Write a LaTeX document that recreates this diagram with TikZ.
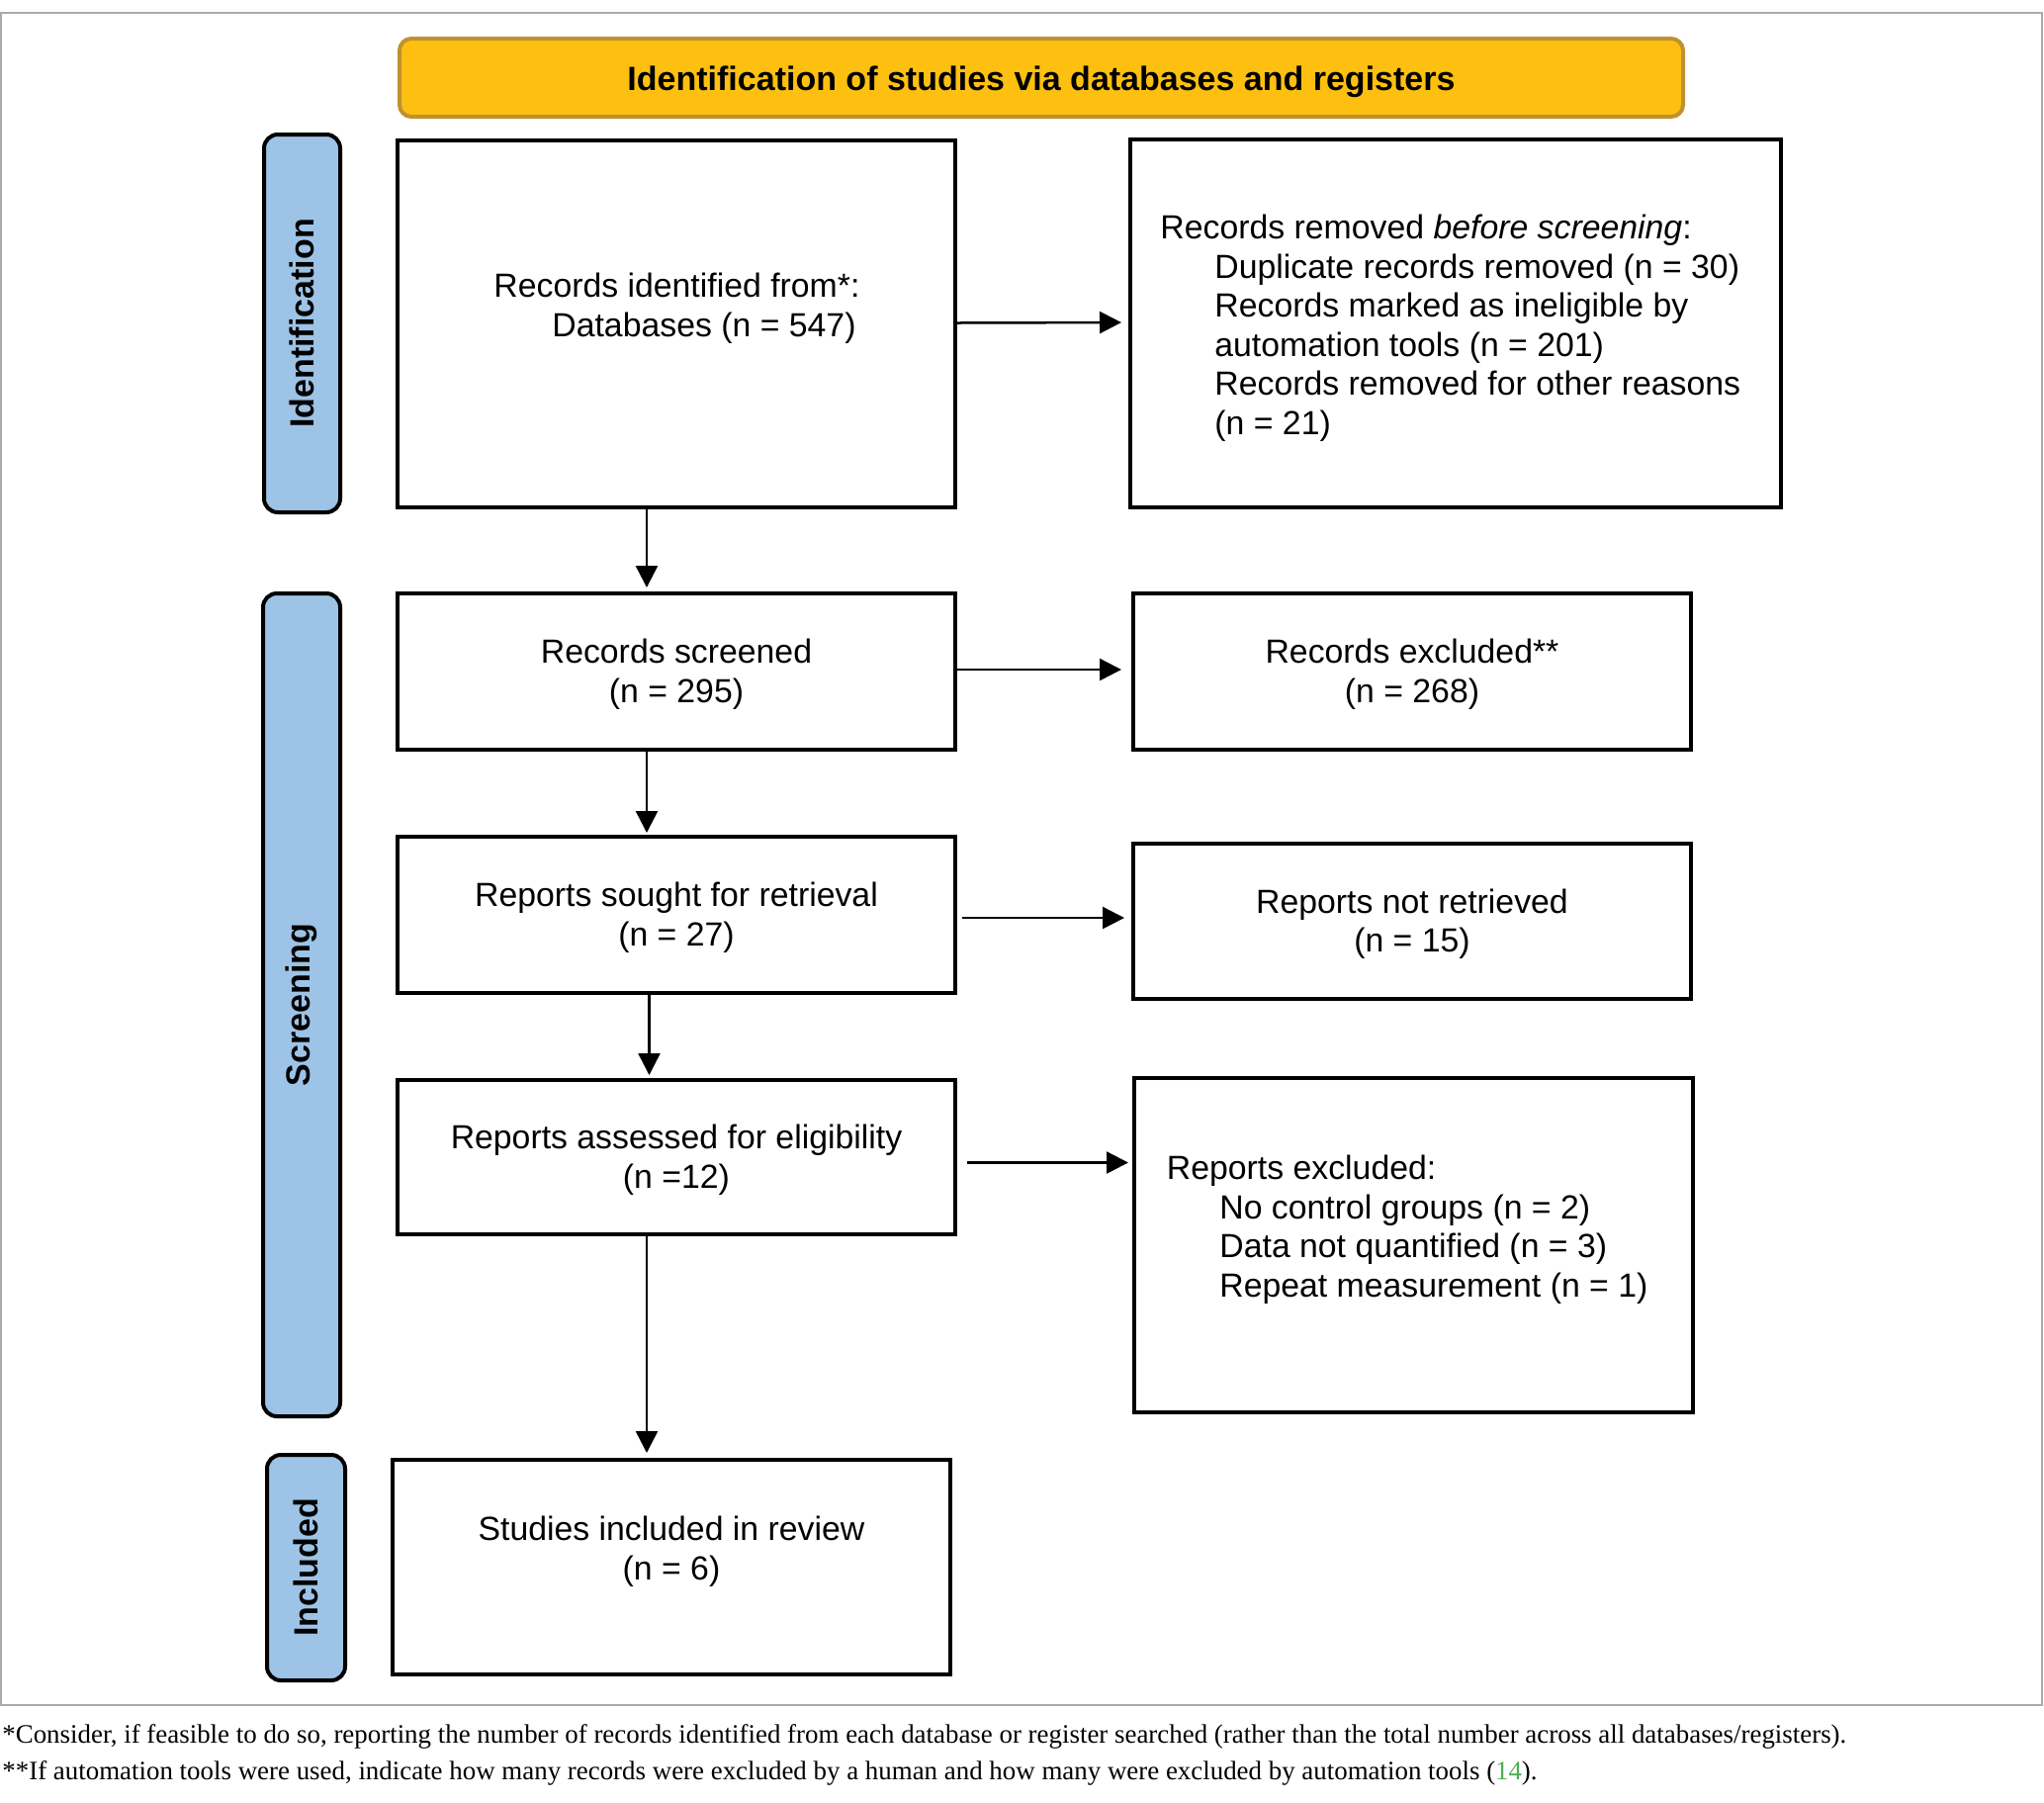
\documentclass[tikz,border=0pt]{standalone}
\usepackage{fontspec}
\setmainfont{Liberation Serif}
\setsansfont{Liberation Sans}
\usetikzlibrary{arrows.meta}
\definecolor{bannerfill}{RGB}{253,192,16}
\definecolor{bannerline}{RGB}{191,145,48}
\definecolor{tabfill}{RGB}{157,195,230}
\definecolor{framegray}{RGB}{170,170,170}
\definecolor{refgreen}{RGB}{76,175,80}
\newcommand\pbfont{\sffamily\fontsize{16.9}{19.75}\selectfont}
\newcommand\pbbold{\sffamily\bfseries\fontsize{17}{20}\selectfont}
\begin{document}
\begin{tikzpicture}[x=0.5pt,y=-0.5pt,
  box/.style={draw=black, line width=2pt, fill=white, inner sep=0pt, minimum width=282pt},
  ctxt/.style={inner sep=0pt, font=\pbfont, align=center},
  txt/.style={inner sep=0pt, font=\pbfont, align=left, anchor=west},
  tab/.style={draw=black, line width=2pt, fill=tabfill, rounded corners=7pt, rotate=90, inner sep=0pt, font=\pbbold},
  arr/.style={draw=black, line width=1.25pt, -{Triangle[length=11pt,width=11pt]}},
  fnote/.style={inner sep=0pt, anchor=west, font=\rmfamily\fontsize{13.45}{16}\selectfont}
]
\useasboundingbox (0,0) rectangle (2067,1822);
\draw[framegray, line width=0.75pt] (1,13) rectangle (2065,1724);

% banner
\node[draw=bannerline, line width=2pt, fill=bannerfill, rounded corners=6pt,
      minimum width=649pt, minimum height=39.5pt, inner sep=0pt]
      (banner) at (1053,78.5) {};
\node[inner sep=0pt, font=\pbbold] (bannertext) at ([yshift=-2pt]banner.center) {Identification of studies via databases and registers};

% side tabs
\node[tab, minimum width=191pt, minimum height=38.5pt] (tid) at (305.5,327) {Identification};
\node[tab, minimum width=416pt, minimum height=39pt] (tsc) at (305,1016) {Screening};
\node[tab, minimum width=114pt, minimum height=39.5pt] (tin) at (309.5,1585) {Included};

% boxes
\node[box, minimum height=185.5pt] (b1) at (684,327.5) {};
\node[txt] (t1) at (499,311.5) {Records identified from*:\\\hspace*{29.5pt}Databases (n = 547)};

\node[box, minimum width=329pt, minimum height=186pt] (b2) at (1472,327) {};
\node[txt] (t2) at (1173,331.5) {Records removed \textit{before screening}:\\
\hspace*{27.5pt}Duplicate records removed (n = 30)\\
\hspace*{27.5pt}Records marked as ineligible by\\
\hspace*{27.5pt}automation tools (n = 201)\\
\hspace*{27.5pt}Records removed for other reasons\\
\hspace*{27.5pt}(n = 21)};

\node[box, minimum height=79pt] (b3) at (684,679) {};
\node[ctxt] (t3) at ([yshift=-1.3pt]b3.center) {Records screened\\(n = 295)};
\node[box, minimum height=79pt] (b4) at (1428,679) {};
\node[ctxt] (t4) at ([yshift=-1.3pt]b4.center) {Records excluded**\\(n = 268)};
\node[box, minimum height=79pt] (b5) at (684,925) {};
\node[ctxt] (t5) at ([yshift=-1.3pt]b5.center) {Reports sought for retrieval\\(n = 27)};
\node[box, minimum height=78.5pt] (b6) at (1428,931.5) {};
\node[ctxt] (t6) at ([yshift=-1.3pt]b6.center) {Reports not retrieved\\(n = 15)};
\node[box, minimum height=78pt] (b7) at (684,1170) {};
\node[ctxt] (t7) at ([yshift=-1.3pt]b7.center) {Reports assessed for eligibility\\(n =12)};

\node[box, minimum width=282.5pt, minimum height=169pt] (b8) at (1429.5,1259) {};
\node[txt] (t8) at (1179.5,1243) {Reports excluded:\\
\hspace*{26.75pt}No control groups (n = 2)\\
\hspace*{26.75pt}Data not quantified (n = 3)\\
\hspace*{26.75pt}Repeat measurement (n = 1)};

\node[box, minimum height=108.5pt] (b9) at (679,1584.5) {};
\node[ctxt] (t9) at ([yshift=8pt]b9.center) {Studies included in review\\(n = 6)};

% arrows
\draw[arr, shorten >=3.5pt] ([yshift=0.5pt]b1.east) -- ([yshift=0.5pt]b2.west);
\draw[arr, shorten >=5pt] ([yshift=1pt]b3.east) -- ([yshift=1pt]b4.west);
\draw[arr, shorten <=2.5pt, shorten >=3.5pt] ([yshift=-1.5pt]b5.east) -- ([yshift=-1.5pt]b5.east -| b6.west);
\draw[arr, shorten <=4.75pt, shorten >=2pt] ([yshift=-2.75pt]b7.east) -- ([yshift=-2.75pt]b7.east -| b8.west);
\draw[arr, shorten >=2pt] ([xshift=-15pt]b1.south) -- ([xshift=-15pt]b3.north);
\draw[arr, shorten >=1pt] ([xshift=-15pt]b3.south) -- ([xshift=-15pt]b5.north);
\draw[arr, shorten >=1.5pt] ([xshift=-13.75pt]b5.south) -- ([xshift=-13.75pt]b7.north);
\draw[arr, shorten >=2.5pt] ([xshift=-15pt]b7.south) -- ([xshift=-15pt]b7.south |- b9.north);

% footnotes
\node[fnote] (fn1) at (2,1756) {*Consider, if feasible to do so, reporting the number of records identified from each database or register searched (rather than the total number across all databases/registers).};
\node[fnote] (fn2) at (2,1793) {**If automation tools were used, indicate how many records were excluded by a human and how many were excluded by automation tools (\textcolor{refgreen}{14}).};
\end{tikzpicture}
\end{document}
